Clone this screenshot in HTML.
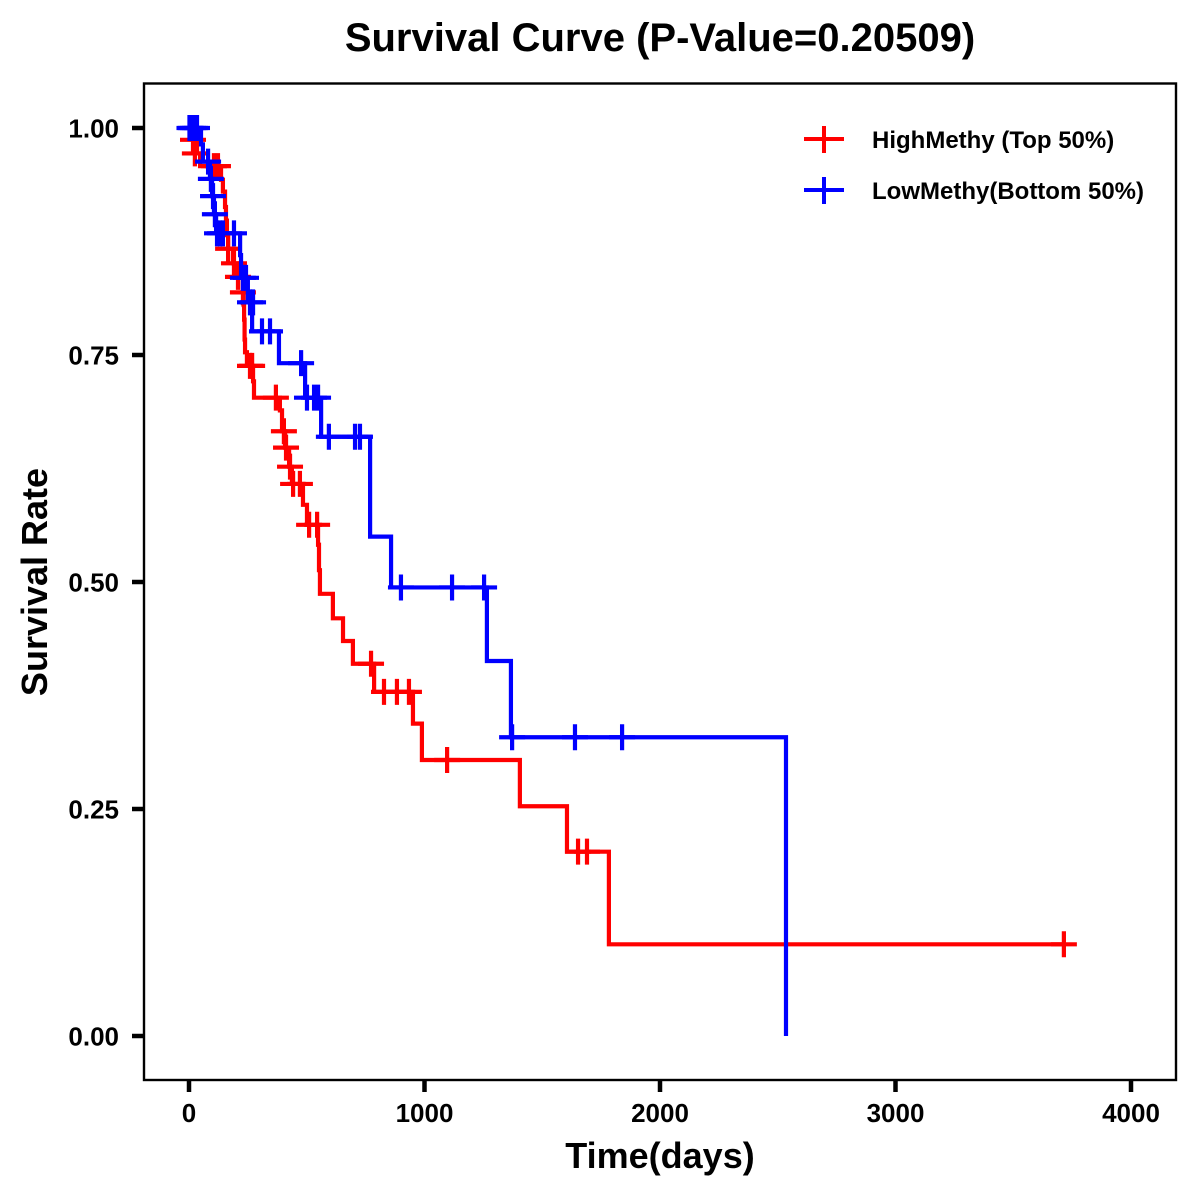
<!DOCTYPE html>
<html>
<head>
<meta charset="utf-8">
<title>Survival Curve</title>
<style>
html,body{margin:0;padding:0;background:#fff;}
svg{display:block;}
text{font-family:"Liberation Sans",Arial,sans-serif;font-weight:bold;fill:#000;}
</style>
</head>
<body>
<svg id="chart" xmlns="http://www.w3.org/2000/svg" width="1200" height="1200" viewBox="0 0 1200 1200">
<rect x="0" y="0" width="1200" height="1200" fill="#fff"/>
<rect x="144" y="83.5" width="1032" height="996.5" fill="none" stroke="#000" stroke-width="2.4"/>
<g id="axes"></g>
<g id="series"></g>
<text x="660" y="51" font-size="40" text-anchor="middle">Survival Curve (P-Value=0.20509)</text>
<text x="660" y="1168" font-size="36" text-anchor="middle">Time(days)</text>
<text transform="translate(47,582) rotate(-90)" font-size="36" text-anchor="middle">Survival Rate</text>
<g>
<g>
<path d="M804 139H844M824 126V153" stroke="#f00" stroke-width="4" fill="none"/>
<text x="872" y="148" font-size="24">HighMethy (Top 50%)</text>
</g>
<g>
<path d="M804 190H844M824 177V204" stroke="#00f" stroke-width="4" fill="none"/>
<text x="872" y="199" font-size="24">LowMethy(Bottom 50%)</text>
</g>
</g>
</svg>
<script>
const xTicks = [0, 1000, 2000, 3000, 4000];
const yTicks = [0, 0.25, 0.5, 0.75, 1];
const yTickLabels = ["0.00", "0.25", "0.50", "0.75", "1.00"];

const highTime = [17,34,47,136,144,153,157,161,166,187,208,229,232,234,236,238,246,272,276,386,395,408,425,437,484,501,548,552,556,611,654,696,786,951,989,1405,1605,1783];
const highSurv = [.987,.972,.958,.943,.930,.913,.898,.882,.867,.851,.836,.819,.805,.789,.767,.753,.738,.721,.703,.689,.666,.648,.627,.608,.585,.563,.541,.513,.487,.460,.435,.410,.379,.344,.304,.253,.203,.101];
const highEnd = 3715;
const highCensorTime = [17,25,106,123,166,191,208,229,259,268,369,403,412,429,442,471,510,544,773,828,883,934,1096,1652,1690,3715];
const highCensorSurv = [.987,.972,.958,.958,.867,.851,.836,.819,.738,.738,.703,.666,.648,.627,.608,.608,.563,.563,.410,.379,.379,.379,.304,.203,.203,.101];

const lowTime = [51,59,89,98,106,115,217,221,250,268,382,493,561,769,858,1265,1367,2535];
const lowSurv = [.982,.963,.944,.925,.905,.884,.860,.835,.808,.776,.741,.703,.660,.550,.494,.413,.329,0];
const lowEnd = 2535;
const lowCensorTime = [2,8,17,25,34,81,93,102,110,119,132,144,191,229,242,259,272,310,344,476,501,531,548,594,705,726,900,1117,1253,1372,1639,1839];
const lowCensorSurv = [1,1,1,1,1,.963,.944,.925,.905,.884,.884,.884,.884,.835,.835,.808,.808,.776,.776,.741,.703,.703,.703,.660,.660,.660,.494,.494,.494,.329,.329,.329];

const SVG_NS = "http://www.w3.org/2000/svg";
function xScale(t) { return 189 + t * 0.2355; }
function yScale(s) { return 1036 - s * 908; }

function make(tag, attrs, parent) {
  const el = document.createElementNS(SVG_NS, tag);
  for (const k in attrs) el.setAttribute(k, attrs[k]);
  parent.appendChild(el);
  return el;
}

const axes = document.getElementById("axes");
xTicks.forEach(function (t) {
  const tick = make("line", {x1: xScale(t), x2: xScale(t), y1: 1081, y2: 1092, stroke: "#000", "stroke-width": 4.5}, axes);
  
  
  const label = make("text", {x: xScale(t), y: 1122, "font-size": 26, "text-anchor": "middle"}, axes);
  
  
  label.textContent = String(t);
});
yTicks.forEach(function (s, i) {
  const tick = make("line", {x1: 132, x2: 143, y1: yScale(s), y2: yScale(s), stroke: "#000", "stroke-width": 4.5}, axes);
  
  
  const label = make("text", {x: 119, y: yScale(s) + 9.5, "font-size": 26, "text-anchor": "end"}, axes);
  
  
  label.textContent = yTickLabels[i];
});

function stepPath(times, survs, end) {
  let d = "M" + xScale(0) + " " + yScale(1);
  times.forEach(function (t, i) {
    d += "H" + xScale(t) + "V" + yScale(survs[i]);
  });
  d += "H" + xScale(end);
  return d;
}

const seriesGroup = document.getElementById("series");

const highLine = make("path", {d: stepPath(highTime, highSurv, highEnd), fill: "none", stroke: "#f00", "stroke-width": 4.2, "stroke-linejoin": "miter"}, seriesGroup);


highCensorTime.forEach(function (t, i) {
  const cx = xScale(t), cy = yScale(highCensorSurv[i]);
  const mark = make("path", {d: "M" + (cx - 13) + " " + cy + "H" + (cx + 13) + "M" + cx + " " + (cy - 13) + "V" + (cy + 13), fill: "none", stroke: "#f00", "stroke-width": 4.2}, seriesGroup);
  
  
});

const lowLine = make("path", {d: stepPath(lowTime, lowSurv, lowEnd), fill: "none", stroke: "#00f", "stroke-width": 4.2, "stroke-linejoin": "miter"}, seriesGroup);


lowCensorTime.forEach(function (t, i) {
  const cx = xScale(t), cy = yScale(lowCensorSurv[i]);
  const mark = make("path", {d: "M" + (cx - 13) + " " + cy + "H" + (cx + 13) + "M" + cx + " " + (cy - 13) + "V" + (cy + 13), fill: "none", stroke: "#00f", "stroke-width": 4.2}, seriesGroup);
  
  
});
</script>
</body>
</html>
